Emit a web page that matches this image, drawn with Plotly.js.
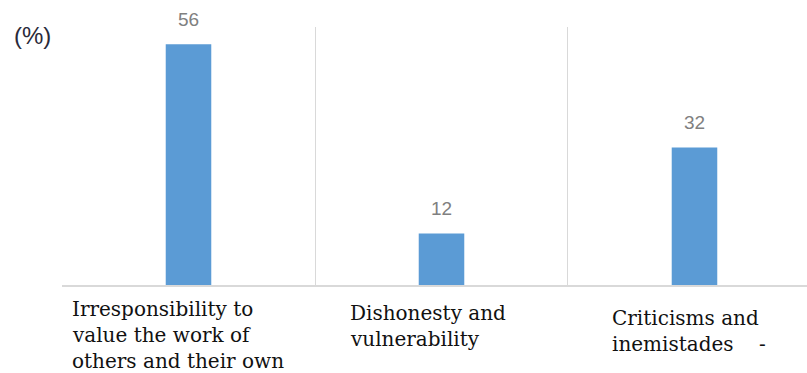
<!DOCTYPE html>
<html>
<head>
<meta charset="utf-8">
<script src="https://cdn.plot.ly/plotly-3.0.1.min.js"></script>
<style>
html,body{margin:0;padding:0;background:#fff;}
#chart{width:807px;height:373px;}
</style>
</head>
<body>
<div id="chart"></div>
<script>
const categories = ["Irresponsibility", "Dishonesty", "Criticisms"];
const values = [56, 12, 32];
const categoryLabelLines = [
  ["Irresponsibility to", "value the work of", "others and their own"],
  ["Dishonesty and", "vulnerability"],
  ["Criticisms and", "inemistades\u00a0\u00a0\u00a0\u00a0-"]
];
const yUnitLabel = "(%)";

const labelXOffset = [0.03, 0.13, 0.165];
const labelTopShift = [-10, -14, -19];
const lineGap = 26;

const annotations = [];
values.forEach((v, i) => {
  annotations.push({
    x: categories[i], y: v, xref: 'x', yref: 'y',
    text: String(v), showarrow: false, yanchor: 'bottom', yshift: 12,
    font: {family: 'Liberation Sans, Arial, sans-serif', size: 19, color: '#808080'}
  });
});
categoryLabelLines.forEach((lines, i) => {
  lines.forEach((ln, j) => {
    annotations.push({
      x: i - 0.5 + labelXOffset[i], y: 0, xref: 'x', yref: 'y',
      text: ln, showarrow: false, xanchor: 'left', yanchor: 'top',
      yshift: labelTopShift[i] - j * lineGap,
      font: {family: 'DejaVu Serif, serif', size: 20, color: '#111'}
    });
  });
});
annotations.push({
  x: 0, y: 1, xref: 'paper', yref: 'paper', xanchor: 'center', yanchor: 'middle',
  xshift: -30, yshift: -8,
  text: yUnitLabel, showarrow: false,
  font: {family: 'Liberation Sans, Arial, sans-serif', size: 24, color: '#2a2a3a'}
});

const trace = {
  type: 'bar', x: categories, y: values,
  marker: {color: '#5b9bd5'}, width: 0.18,
  hoverinfo: 'none'
};
const layout = {
  width: 807, height: 373,
  margin: {l: 62, r: 0, t: 27, b: 88},
  paper_bgcolor: '#fff', plot_bgcolor: '#fff',
  showlegend: false,
  xaxis: {
    type: 'category', range: [-0.5, 2.4447],
    tickson: 'boundaries', showgrid: true, gridcolor: '#d9d9d9', gridwidth: 1,
    showline: true, linecolor: '#d9d9d9', linewidth: 2,
    showticklabels: false, ticks: '', zeroline: false, fixedrange: true
  },
  yaxis: {
    range: [0, 60], showgrid: false, showticklabels: false, zeroline: false,
    showline: false, ticks: '', fixedrange: true
  },
  annotations: annotations
};
Plotly.newPlot('chart', [trace], layout, {displayModeBar: false, staticPlot: true});
</script>
</body>
</html>
